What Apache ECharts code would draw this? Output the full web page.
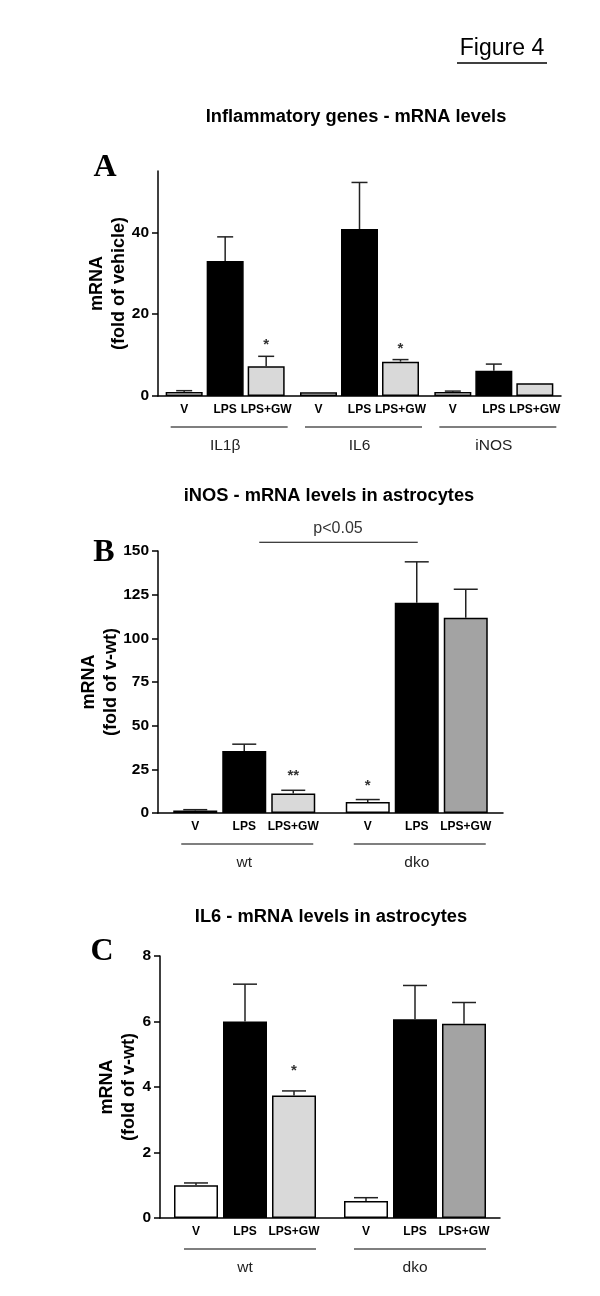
<!DOCTYPE html>
<html>
<head>
<meta charset="utf-8">
<script src="https://cdn.jsdelivr.net/npm/echarts@6/dist/echarts.min.js"></script>
<style>
html, body { margin: 0; padding: 0; background: #fff; }
#fig { width: 600px; height: 1296px; }
</style>
</head>
<body>
<div id="fig"></div>
<script>
var treatments = ['V', 'LPS', 'LPS+GW'];

// panel A - inflammatory genes
var aGenes = ['IL1β', 'IL6', 'iNOS'];
var aV = [1.0, 0.9, 1.0];
var aVErr = [0.3, 0, 0.2];
var aLPS = [33.0, 40.8, 6.2];
var aLPSErr = [5.9, 11.4, 1.6];
var aGW = [7.3, 8.4, 3.1];
var aGWErr = [2.4, 0.5, 0];
var aGWStars = ['*', '*', ''];
var aTicks = [0, 20, 40];

// panel B - iNOS in astrocytes
var genotypes = ['wt', 'dko'];
var bV = [1.5, 6.3];
var bVErr = [0.4, 1.4];
var bLPS = [35.5, 120.4];
var bLPSErr = [3.9, 23.4];
var bGW = [11.1, 111.8];
var bGWErr = [1.9, 16.3];
var bVStars = ['', '*'];
var bGWStars = ['**', ''];

// panel C - IL6 in astrocytes
var cV = [1.0, 0.52];
var cVErr = [0.07, 0.1];
var cLPS = [6.0, 6.07];
var cLPSErr = [1.14, 1.03];
var cGW = [3.74, 5.93];
var cGWErr = [0.14, 0.65];
var cGWStars = ['*', ''];

var FONT = 'Liberation Sans';
var white = '#ffffff', black = '#000000', light = '#d9d9d9', dark = '#a3a3a3';

function bars(grid, values, k, colors, bw, gap) {
    return {
        type: 'bar',
        name: treatments[k],
        xAxisIndex: grid,
        yAxisIndex: grid,
        barWidth: bw,
        barGap: (gap / bw * 100) + '%',
        data: values.map(function (v, i) {
            return { value: v, itemStyle: { color: colors[i] } };
        }),
        itemStyle: { borderColor: '#000', borderWidth: 1.5 },
        label: {
            show: true, position: 'bottom', distance: 8,
            formatter: treatments[k],
            fontFamily: FONT, fontWeight: 'bold', fontSize: 12, color: '#000'
        },
        silent: true
    };
}

function errors(grid, means, errs, stars, bw, gap, cap, starGap) {
    var data = [];
    for (var k = 0; k < 3; k++) {
        for (var c = 0; c < means[k].length; c++) {
            data.push([c, k, means[k][c], errs[k][c]]);
        }
    }
    return {
        type: 'custom',
        xAxisIndex: grid,
        yAxisIndex: grid,
        z: 5,
        silent: true,
        data: data,
        encode: { x: 0, y: 2 },
        renderItem: function (params, api) {
            var c = api.value(0), k = api.value(1), m = api.value(2), e = api.value(3);
            var p0 = api.coord([c, m]);
            var x = p0[0] + (k - 1) * (bw + gap);
            var yTop = api.coord([c, m + e])[1];
            var kids = [];
            if (e > 0) {
                kids.push({ type: 'line', shape: { x1: x, y1: p0[1], x2: x, y2: yTop },
                    style: { stroke: '#222', lineWidth: 1.5 } });
                kids.push({ type: 'line', shape: { x1: x - cap / 2, y1: yTop, x2: x + cap / 2, y2: yTop },
                    style: { stroke: '#222', lineWidth: 1.5 } });
            }
            var s = stars[k] ? stars[k][c] : '';
            if (s) {
                kids.push({ type: 'text', x: x, y: yTop - starGap,
                    style: { text: s, textAlign: 'center', textVerticalAlign: 'middle',
                        font: 'bold 15px ' + FONT, fill: '#333' } });
            }
            return { type: 'group', children: kids };
        }
    };
}

function xAx(grid, cats) {
    return {
        gridIndex: grid, type: 'category', data: cats,
        axisTick: { show: false },
        axisLine: { lineStyle: { color: '#000', width: 1.5 } },
        axisLabel: { margin: 42, fontSize: 15.5, color: '#222', fontFamily: FONT }
    };
}

function yAx(grid, max, name, gap, extra) {
    var ax = {
        gridIndex: grid, type: 'value', min: 0, max: max,
        name: name, nameLocation: 'middle', nameRotate: 90, nameGap: gap,
        nameMoveOverlap: false,
        nameTextStyle: { fontFamily: FONT, fontWeight: 'bold', fontSize: 18, lineHeight: 22, color: '#000' },
        splitLine: { show: false },
        axisLine: { show: true, lineStyle: { color: '#000', width: 1.5 } },
        axisTick: { show: true, length: 6, lineStyle: { color: '#000', width: 1.5 } },
        axisLabel: { margin: 9, fontFamily: FONT, fontWeight: 'bold', fontSize: 15.5, color: '#000' }
    };
    for (var key in extra) {
        for (var sub in extra[key]) ax[key][sub] = extra[key][sub];
    }
    return ax;
}

var chart = echarts.init(document.getElementById('fig'), null, { renderer: 'canvas' });

var aBW = 37, aGap = 4, bBW = 44, bGap = 5;

var option = {
    animation: false,
    backgroundColor: '#fff',
    grid: [
        { left: 158, top: 171, width: 403, height: 225 },
        { left: 158, top: 551, width: 345, height: 262 },
        { left: 160, top: 956, width: 340, height: 262 }
    ],
    xAxis: [xAx(0, aGenes), xAx(1, genotypes), xAx(2, genotypes)],
    yAxis: [
        yAx(0, 55, 'mRNA\n(fold of vehicle)', 28, { axisTick: { customValues: aTicks }, axisLabel: { customValues: aTicks } }),
        yAx(1, 150, 'mRNA\n(fold of v-wt)', 36, {}),
        yAx(2, 8, 'mRNA\n(fold of v-wt)', 20, {})
    ],
    series: [
        bars(0, aV, 0, [white, white, white], aBW, aGap),
        bars(0, aLPS, 1, [black, black, black], aBW, aGap),
        bars(0, aGW, 2, [light, light, light], aBW, aGap),
        errors(0, [aV, aLPS, aGW], [aVErr, aLPSErr, aGWErr], [null, null, aGWStars], aBW, aGap, 16, 11),

        bars(1, bV, 0, [white, white], bBW, bGap),
        bars(1, bLPS, 1, [black, black], bBW, bGap),
        bars(1, bGW, 2, [light, dark], bBW, bGap),
        errors(1, [bV, bLPS, bGW], [bVErr, bLPSErr, bGWErr], [bVStars, null, bGWStars], bBW, bGap, 24, 14),

        bars(2, cV, 0, [white, white], bBW, bGap),
        bars(2, cLPS, 1, [black, black], bBW, bGap),
        bars(2, cGW, 2, [light, dark], bBW, bGap),
        errors(2, [cV, cLPS, cGW], [cVErr, cLPSErr, cGWErr], [null, null, cGWStars], bBW, bGap, 24, 20)
    ]
};
option.yAxis[1].interval = 25;
option.yAxis[2].interval = 2;

chart.setOption(option);

// titles, panel letters, group underlines and the p-value bracket
function txt(x, y, s, font, color) {
    return { type: 'text', x: x, y: y, silent: true,
        style: { text: s, font: font, fill: color || '#000', textAlign: 'center', textVerticalAlign: 'middle' } };
}
function hline(x1, x2, y, w) {
    return { type: 'line', silent: true, shape: { x1: x1, y1: y, x2: x2, y2: y },
        style: { stroke: '#000', lineWidth: w || 1.2 } };
}
function groupLine(grid, cat, half, dy, shift) {
    var p = chart.convertToPixel({ gridIndex: grid }, [cat, 0]);
    return hline(p[0] - half + shift, p[0] + half + shift, p[1] + dy);
}

var g = [];
g.push(txt(502, 49, 'Figure 4', '23px ' + FONT));
g.push(hline(457, 547, 63, 1.5));

g.push(txt(356, 117, 'Inflammatory genes - mRNA levels', 'bold 18.3px ' + FONT));
g.push(txt(329, 496, 'iNOS - mRNA levels in astrocytes', 'bold 18.3px ' + FONT));
g.push(txt(331, 917, 'IL6 - mRNA levels in astrocytes', 'bold 18.3px ' + FONT));

g.push(txt(105, 168, 'A', 'bold 32px "Liberation Serif"'));
g.push(txt(104, 553, 'B', 'bold 32px "Liberation Serif"'));
g.push(txt(102, 952, 'C', 'bold 32px "Liberation Serif"'));

aGenes.forEach(function (c, i) { g.push(groupLine(0, i, 58.5, 31, 4)); });
genotypes.forEach(function (c, i) {
    g.push(groupLine(1, i, 66, 31, 3));
    g.push(groupLine(2, i, 66, 31, 5));
});

var pl = chart.convertToPixel({ gridIndex: 1 }, [0, 155]);
var pr = chart.convertToPixel({ gridIndex: 1 }, [1, 155]);
g.push(hline(pl[0] + 15, pr[0] + 1, pl[1], 1.2));
var pt = chart.convertToPixel({ gridIndex: 1 }, [0, 163]);
g.push(txt((pl[0] + 15 + pr[0]) / 2, pt[1], 'p<0.05', '16px ' + FONT, '#333'));

chart.setOption({ graphic: { elements: g } });
</script>
</body>
</html>
